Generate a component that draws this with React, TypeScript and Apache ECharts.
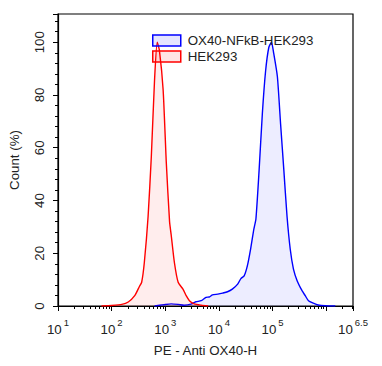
import React, { useEffect, useRef } from "react";
import * as echarts from "echarts";

// x values are log10(PE - Anti OX40-H intensity)
const blueLogPE = [2.8, 2.98, 3.11, 3.24, 3.35, 3.48, 3.57, 3.67, 3.76, 3.82, 3.88, 3.98, 4.07, 4.16, 4.25, 4.35, 4.41, 4.47, 4.53, 4.59, 4.65, 4.69, 4.75, 4.81, 4.87, 4.93, 4.98, 5.02, 5.09, 5.15, 5.21, 5.27, 5.33, 5.39, 5.46, 5.55, 5.61, 5.67, 5.76, 5.85, 5.98, 6.17];
const blueCount = [0, 0.5, 0.8, 0.6, 0.3, 0.7, 1.6, 2.0, 3.3, 3.4, 4.2, 4.5, 4.9, 5.4, 6.4, 8.3, 10.4, 11.4, 15.2, 21.5, 29, 33, 51.7, 73, 89, 98, 100, 96, 87, 69, 51.7, 34, 21.5, 14, 9.5, 5.8, 3.9, 2.0, 1.1, 0.4, 0.1, 0];

const redLogPE = [1.81, 2.0, 2.19, 2.31, 2.43, 2.52, 2.56, 2.61, 2.68, 2.74, 2.8, 2.85, 2.89, 2.96, 3.02, 3.08, 3.11, 3.17, 3.24, 3.33, 3.39, 3.45, 3.54, 3.67, 3.8];
const redCount = [0, 0.2, 0.6, 1.5, 3.9, 7.5, 9, 16.6, 34, 56.7, 85.7, 100, 97, 82, 54, 32, 27, 16.5, 9, 6.4, 3.9, 2.0, 0.8, 0.3, 0];

const seriesNames = ["OX40-NFkB-HEK293", "HEK293"];

const xMin = 1;
const xMax = 6.5;
const xMajorTicks = [1, 2, 3, 4, 5, 6, 6.5];
const xLabelTicks = [1, 2, 3, 4, 5, 6.5];
const xMinorTicks: number[] = [];
for (let d = 1; d <= 6; d++) {
  for (let k = 2; k <= 9; k++) {
    const v = d + Math.log10(k);
    if (v < xMax) xMinorTicks.push(v);
  }
}

const yMin = 0;
const yMax = 110.7;
const yLabelTicks = [0, 20, 40, 60, 80, 100];
const yMajorTicks = [0, 20, 40, 60, 80, 100, yMax];
const yMinorTicks: number[] = [];
for (let v = 4; v < yMax; v += 4) {
  if (v % 20 !== 0) yMinorTicks.push(v);
}

const FONT = "'Liberation Sans', Arial, sans-serif";
const TEXT = "#222";
const FS = 13.3;

export default function App() {
  const ref = useRef<HTMLDivElement>(null);
  useEffect(() => {
    if (!ref.current) return;
    const chart = echarts.init(ref.current, null, { renderer: "svg" });
    const blueData = blueLogPE.map((x, i) => [x, blueCount[i]]);
    const redData = redLogPE.map((x, i) => [x, redCount[i]]);
    chart.setOption({
      animation: false,
      textStyle: { fontFamily: FONT },
      grid: {
        left: 56,
        right: 29,
        top: 14,
        bottom: 60,
        show: true,
        borderColor: "#000",
        borderWidth: 1.2,
        backgroundColor: "transparent",
      },
      legend: {
        orient: "vertical",
        left: 147,
        top: 29,
        itemWidth: 28,
        itemHeight: 11,
        itemGap: 3,
        textStyle: { fontSize: FS, color: TEXT, fontFamily: FONT, padding: [0, 0, 0, 2] },
        data: [
          {
            name: seriesNames[0],
            icon: "rect",
            itemStyle: { color: "rgba(0,0,255,0.1)", borderColor: "#0000ff", borderWidth: 1.5 },
          },
          {
            name: seriesNames[1],
            icon: "rect",
            itemStyle: { color: "rgba(255,0,0,0.1)", borderColor: "#ff0000", borderWidth: 1.5 },
          },
        ],
      },
      xAxis: [
        {
          type: "value",
          min: xMin,
          max: xMax,
          position: "bottom",
          name: "PE - Anti OX40-H",
          nameLocation: "middle",
          nameGap: 38,
          nameTextStyle: { fontSize: FS, color: TEXT, fontFamily: FONT },
          axisLine: { show: true, onZero: false, lineStyle: { color: "#000", width: 1.2 } },
          axisTick: { show: true, customValues: xMajorTicks, length: 5, lineStyle: { color: "#000", width: 1 } },
          axisLabel: {
            customValues: xLabelTicks,
            margin: 11,
            formatter: (v: number) => `{b|10}{s|${Number.isInteger(v) ? v : v.toFixed(1)}}`,
            rich: {
              b: { fontSize: FS, color: TEXT, fontFamily: FONT, lineHeight: 19, verticalAlign: "bottom" },
              s: { fontSize: 9.5, color: TEXT, fontFamily: FONT, lineHeight: 9, verticalAlign: "top", padding: [0, 0, 0, 2] },
            },
          },
          splitLine: { show: false },
        },
        {
          type: "value",
          min: xMin,
          max: xMax,
          position: "bottom",
          axisLine: { show: false },
          axisTick: { show: true, customValues: xMinorTicks, length: 3, lineStyle: { color: "#000", width: 1 } },
          axisLabel: { show: false },
          splitLine: { show: false },
        },
      ],
      yAxis: [
        {
          type: "value",
          min: yMin,
          max: yMax,
          position: "left",
          name: "Count (%)",
          nameLocation: "middle",
          nameGap: 37,
          nameRotate: 90,
          nameTextStyle: { fontSize: FS, color: TEXT, fontFamily: FONT },
          axisLine: { show: true, onZero: false, lineStyle: { color: "#000", width: 1.2 } },
          axisTick: { show: true, customValues: yMajorTicks, length: 5, lineStyle: { color: "#000", width: 1 } },
          axisLabel: { customValues: yLabelTicks, rotate: 90, margin: 12, fontSize: FS, color: TEXT, fontFamily: FONT },
          splitLine: { show: false },
        },
        {
          type: "value",
          min: yMin,
          max: yMax,
          position: "left",
          axisLine: { show: false },
          axisTick: { show: true, customValues: yMinorTicks, length: 3, lineStyle: { color: "#000", width: 1 } },
          axisLabel: { show: false },
          splitLine: { show: false },
        },
      ],
      series: [
        {
          name: seriesNames[0],
          type: "line",
          data: blueData,
          showSymbol: false,
          symbol: "none",
          smooth: 0.2,
          color: "#0000ff",
          lineStyle: { color: "#0000ff", width: 1.4 },
          areaStyle: { color: "rgba(0,0,255,0.1)", origin: "start" },
          z: 2,
        },
        {
          name: seriesNames[1],
          type: "line",
          data: redData,
          showSymbol: false,
          symbol: "none",
          smooth: 0.2,
          color: "#ff0000",
          lineStyle: { color: "#ff0000", width: 1.4 },
          areaStyle: { color: "rgba(255,0,0,0.1)", origin: "start" },
          z: 3,
        },
      ],
    });
    return () => chart.dispose();
  }, []);
  return <div ref={ref} style={{ position: "absolute", left: 0, top: 0, width: 382, height: 366 }} />;
}
